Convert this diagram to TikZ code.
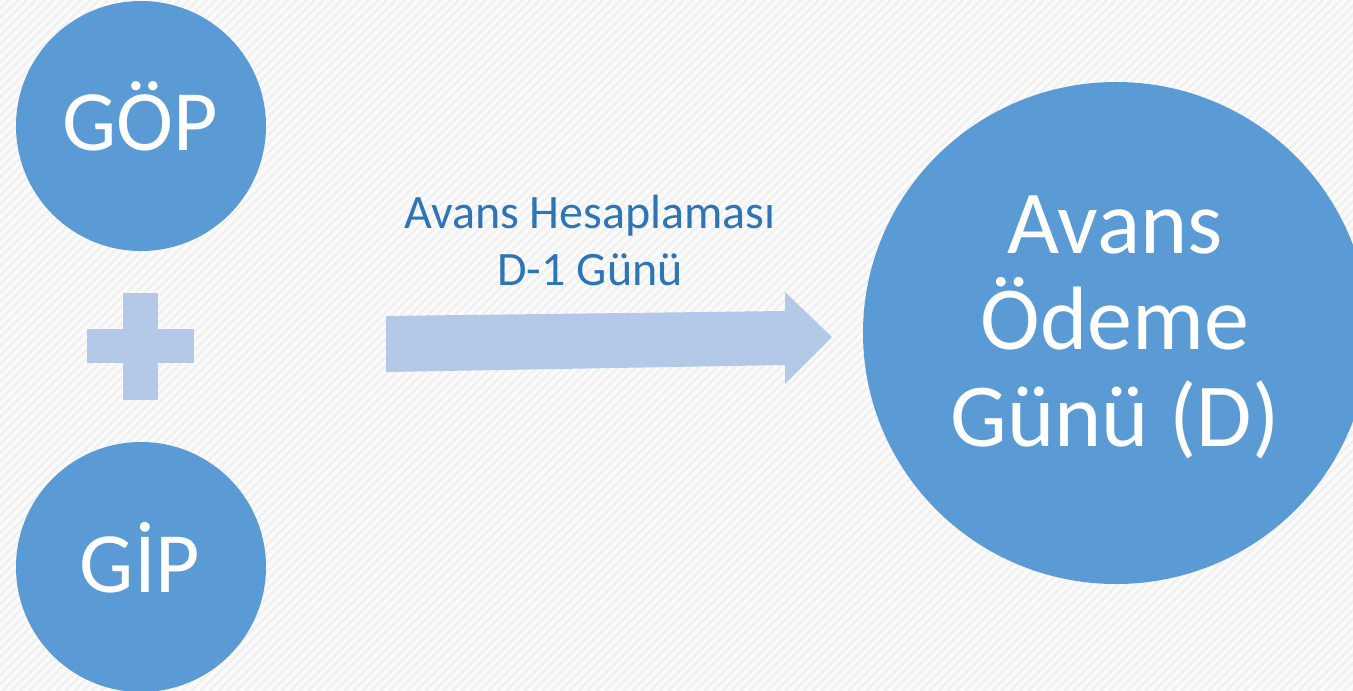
\documentclass[tikz,border=0pt]{standalone}
\usepackage{fontspec}
\setmainfont{Carlito}
\definecolor{circblue}{HTML}{5B9BD5}
\definecolor{paleblue}{HTML}{B4C9E7}
\definecolor{labelblue}{HTML}{2E75B6}
\definecolor{paper}{HTML}{FBFBFB}
\definecolor{stripe}{HTML}{F1F1F1}
\tikzset{
  disc/.style={circle, fill=circblue, draw=none, inner sep=0pt},
  disctext/.style={text=white, inner sep=0pt, anchor=base, align=center},
  palefill/.style={fill=paleblue, draw=none},
}
\begin{document}
\begin{tikzpicture}[x=1pt, y=-1pt]
  % canvas and faint diagonal texture
  \useasboundingbox (0,0) rectangle (1353,691);
  \fill[paper] (0,0) rectangle (1353,691);
  \begin{scope}
    \clip (0,0) rectangle (1353,691);
    \foreach \k in {0,9,...,2070} {
      \draw[stripe, line width=2.6pt] (\k-700,691) -- (\k,0);
    }
  \end{scope}

  % left discs
  \node[disc, minimum size=250pt] (gop) at (141,126) {};
  \node[disctext, font=\fontsize{86}{100}\selectfont] (goptext) at (140,150) {GÖP};
  \node[disc, minimum size=250pt] (gip) at (141,567) {};
  \node[disctext, font=\fontsize{86}{100}\selectfont] (giptext) at (140,592) {GİP};

  % plus sign between the discs
  \fill[palefill] (123,293) rectangle (158,400);
  \fill[palefill] (87,329) rectangle (194,363);

  % block arrow towards the payment day
  \coordinate (tail) at (386,344);
  \coordinate (tip) at (832,337);
  \fill[palefill] (386,316) -- (785,311) -- (785,292) -- (tip)
    -- (785,384) -- (785,365) -- (386,372) -- cycle;
  % the base anchor of a multi-line node sits on its last line
  \node[text=labelblue, inner sep=0pt, anchor=base, align=center,
        font=\fontsize{48}{57}\selectfont] (calc) at (590,285)
        {Avans Hesaplaması\\D-1 Günü};

  % large disc
  \fill[circblue] (1116,333) ellipse [x radius=253pt, y radius=251pt];
  \node[inner sep=0pt, minimum size=502pt] (pay) at (1116,333) {};
  \node[disctext, font=\fontsize{90}{96.5}\selectfont] (paytext) at (1115,446)
        {Avans\\Ödeme\\Günü (D)};
\end{tikzpicture}
\end{document}
